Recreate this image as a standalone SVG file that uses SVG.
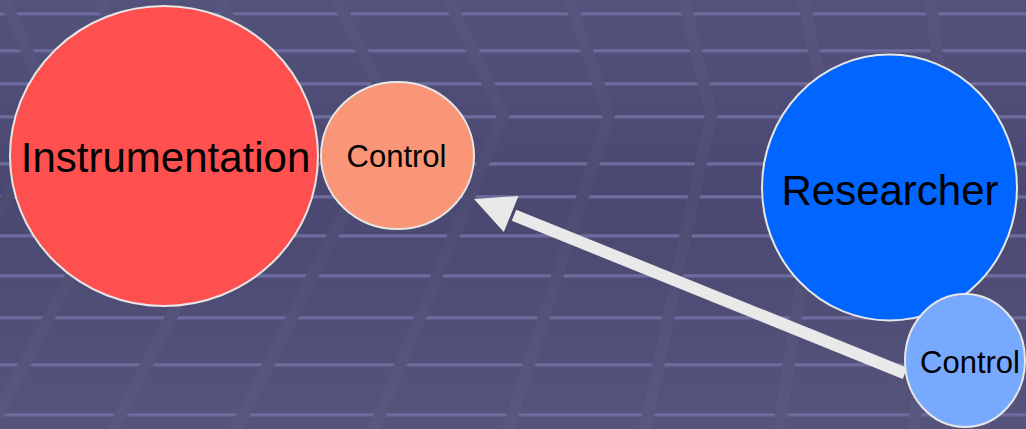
<svg xmlns="http://www.w3.org/2000/svg" width="1026" height="429" viewBox="0 0 1026 429">
  <defs>
    <linearGradient id="bg" gradientUnits="userSpaceOnUse" x1="0" y1="0" x2="0" y2="429">
      <stop offset="0" stop-color="#53527b"/>
      <stop offset="0.45" stop-color="#4a4870"/>
      <stop offset="1" stop-color="#55547c"/>
    </linearGradient>
    <linearGradient id="hl" x1="0" y1="0" x2="0" y2="1">
      <stop offset="0" stop-color="#5f5e8c"/>
      <stop offset="0.4" stop-color="#7170a2"/>
      <stop offset="1" stop-color="#5a5986"/>
    </linearGradient>
  </defs>
  <style>
    .hline { fill: url(#hl); }
    .stripe { fill: none; stroke: url(#bg); stroke-width: 12; stroke-linejoin: miter; stroke-miterlimit: 10; }
    .stripe2 { fill: none; stroke: #ffffff; stroke-opacity: 0.025; stroke-width: 12; stroke-linejoin: miter; stroke-miterlimit: 10; }
    .node { stroke: #e6e6e6; stroke-width: 2; }
    .lbl { font-family: "Liberation Sans", Arial, sans-serif; fill: #000000; text-anchor: middle; }
    .big { font-size: 42px; }
    .small { font-size: 31px; }
    .conn { stroke: #e9e9e9; stroke-width: 12; fill: none; }
    .head { fill: #e9e9e9; }
  </style>
  <g id="background">
    <rect x="0" y="0" width="1026" height="429" fill="url(#bg)"/>
    <rect class="hline" x="0" y="12" width="1026" height="4"/>
    <rect class="hline" x="0" y="49" width="1026" height="4"/>
    <rect class="hline" x="0" y="82" width="1026" height="4"/>
    <rect class="hline" x="0" y="115" width="1026" height="4"/>
    <rect class="hline" x="0" y="162" width="1026" height="4"/>
    <rect class="hline" x="0" y="195" width="1026" height="4"/>
    <rect class="hline" x="0" y="234" width="1026" height="4"/>
    <rect class="hline" x="0" y="274" width="1026" height="4"/>
    <rect class="hline" x="0" y="316" width="1026" height="4"/>
    <rect class="hline" x="0" y="363" width="1026" height="4"/>
    <rect class="hline" x="0" y="413" width="1026" height="4"/>
    <g id="stripes-base">
      <polyline class="stripe" points="0,-10 56,115 -130,429"/>
      <polyline class="stripe" points="95,-10 156,115 -10,429"/>
      <polyline class="stripe" points="215,-10 276,115 113,429"/>
      <polyline class="stripe" points="332,-10 393,115 236,429"/>
      <polyline class="stripe" points="444,-10 503,115 374,429"/>
      <polyline class="stripe" points="566,-10 609,115 508,429"/>
      <polyline class="stripe" points="682,-10 711,115 645,429"/>
      <polyline class="stripe" points="802,-10 826,115 779,429"/>
      <polyline class="stripe" points="929,-10 945,115 914,429"/>
    </g>
    <g id="stripes-tint">
      <polyline class="stripe2" points="0,-10 56,115 -130,429"/>
      <polyline class="stripe2" points="95,-10 156,115 -10,429"/>
      <polyline class="stripe2" points="215,-10 276,115 113,429"/>
      <polyline class="stripe2" points="332,-10 393,115 236,429"/>
      <polyline class="stripe2" points="444,-10 503,115 374,429"/>
      <polyline class="stripe2" points="566,-10 609,115 508,429"/>
      <polyline class="stripe2" points="682,-10 711,115 645,429"/>
      <polyline class="stripe2" points="802,-10 826,115 779,429"/>
      <polyline class="stripe2" points="929,-10 945,115 914,429"/>
    </g>
  </g>
  <g id="connectors">
    <line class="conn" x1="905" y1="373.4" x2="514" y2="215.2"/>
    <polygon class="head" points="474,199 518.4,195.9 503.8,232.1"/>
  </g>
  <g id="node-instrumentation">
    <ellipse class="node" cx="164" cy="156" rx="154" ry="150" fill="#ff5050"/>
    <text class="lbl big" x="165.5" y="172">Instrumentation</text>
  </g>
  <g id="node-instrumentation-control">
    <ellipse class="node" cx="397.5" cy="155.5" rx="76.5" ry="73.5" fill="#f99677"/>
    <text class="lbl small" x="396.5" y="167">Control</text>
  </g>
  <g id="node-researcher">
    <ellipse class="node" cx="889.5" cy="187.5" rx="127.5" ry="133" fill="#0066ff"/>
    <text class="lbl big" x="890" y="205">Researcher</text>
  </g>
  <g id="node-researcher-control">
    <ellipse class="node" cx="965" cy="360.5" rx="60" ry="66.5" fill="#77aaff"/>
    <text class="lbl small" x="970" y="373">Control</text>
  </g>
</svg>
